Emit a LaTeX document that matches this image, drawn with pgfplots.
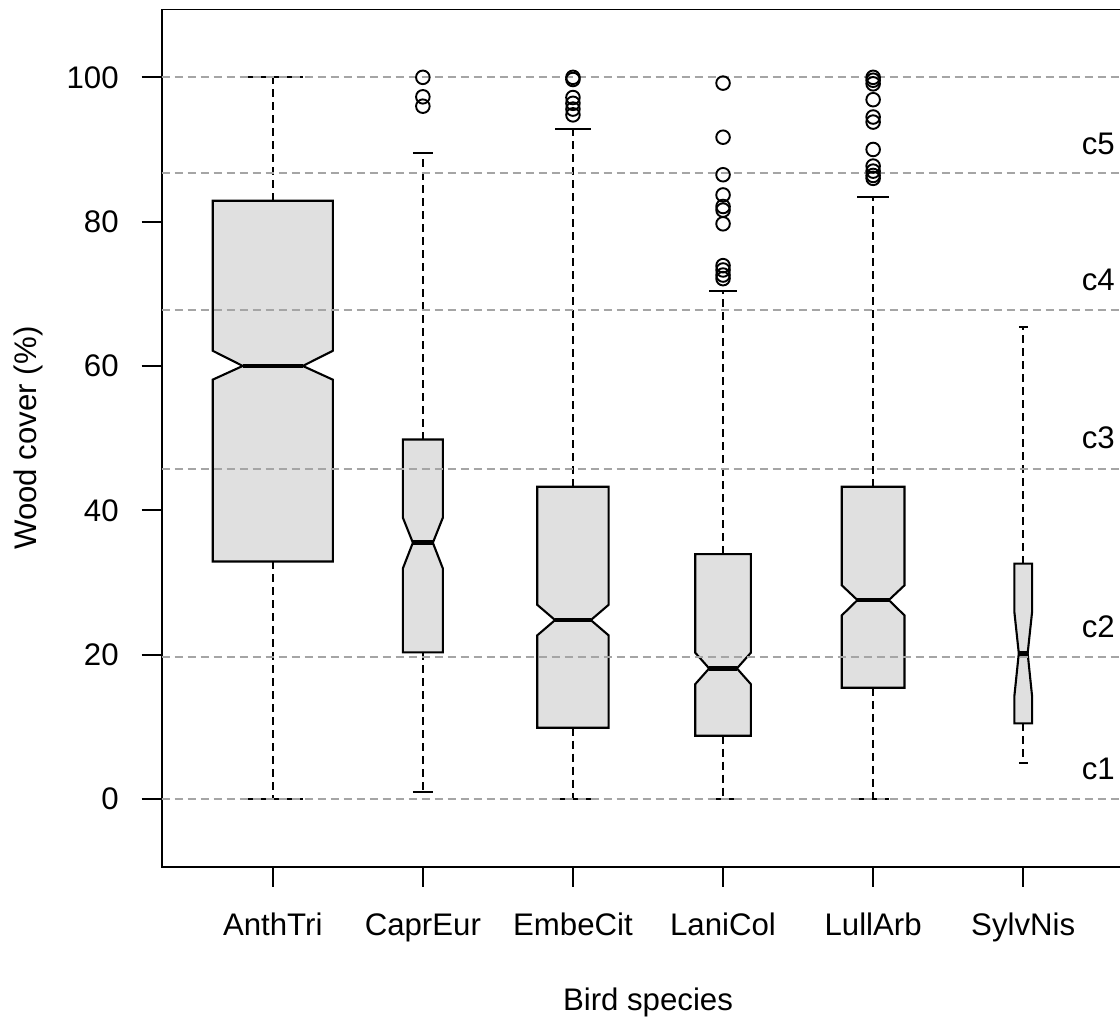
\documentclass[border=0pt]{standalone}
\usepackage{pgfplots}
\pgfplotsset{compat=1.18}
\usepackage{fontspec}
\setmainfont{Liberation Sans}
\definecolor{boxfill}{RGB}{224,224,224}
\definecolor{refgray}{RGB}{165,165,165}
\newcommand{\lblfont}{\fontsize{15.6}{18.7}\selectfont}

% notched box: center, half width, q1, notch low, median, notch high, q3, whisker low, whisker high
\newcommand{\nbox}[9]{%
  \pgfmathsetmacro\xL{#1-#2}%
  \pgfmathsetmacro\xR{#1+#2}%
  \pgfmathsetmacro\xl{#1-#2/2}%
  \pgfmathsetmacro\xr{#1+#2/2}%
  \addplot[black, line width=1pt, dash pattern=on 4pt off 2.5pt] coordinates {(#1,#7) (#1,#9)};
  \addplot[black, line width=1pt, dash pattern=on 4pt off 2.5pt] coordinates {(#1,#3) (#1,#8)};
  \edef\tmp{\noexpand\addplot[black, line width=1pt] coordinates {(\xl,#9) (\xr,#9)};}\tmp
  \edef\tmp{\noexpand\addplot[black, line width=1pt] coordinates {(\xl,#8) (\xr,#8)};}\tmp
  \edef\tmp{\noexpand\addplot[black, line width=1.05pt, fill=boxfill, line join=miter]
    coordinates {(\xL,#3) (\xR,#3) (\xR,#4) (\xr,#5) (\xR,#6) (\xR,#7) (\xL,#7) (\xL,#6) (\xl,#5) (\xL,#4)} -- cycle;}\tmp
  \edef\tmp{\noexpand\addplot[black, line width=2.4pt] coordinates {(\xl,#5) (\xr,#5)};}\tmp
}

\begin{document}
\begin{tikzpicture}
\useasboundingbox (-80.85pt,-76.2pt) rectangle (479.15pt,433.35pt);
\clip (-80.85pt,-76.2pt) rectangle (479.15pt,433.35pt);
\begin{axis}[
  scale only axis,
  width=486.3pt, height=428.6pt,
  xmin=0.26, xmax=6.74, ymin=-9.4, ymax=109.4,
  xtick={1,2,3,4,5,6},
  xticklabels={AnthTri,CaprEur,EmbeCit,LaniCol,LullArb,SylvNis},
  ytick={0,20,40,60,80,100},
  tick align=outside, tick pos=left,
  major tick length=10pt,
  axis line style={line width=0.95pt},
  every tick/.style={black, line width=0.95pt},
  tick label style={font=\lblfont},
  /pgf/number format/assume math mode=true,
  xticklabel style={anchor=base, yshift=-24.5pt},
  yticklabel style={anchor=east, inner sep=0pt, xshift=-11.3pt},
]
% boxes
\nbox{1}{0.400}{32.9}{58.1}{60.0}{62.1}{82.9}{0}{100}
\nbox{2}{0.133}{20.3}{31.95}{35.5}{38.96}{49.8}{1.0}{89.5}
\nbox{3}{0.238}{9.86}{22.66}{24.78}{26.9}{43.26}{0}{92.8}
\nbox{4}{0.185}{8.75}{15.91}{18.08}{20.25}{33.93}{0}{70.4}
\nbox{5}{0.209}{15.4}{25.43}{27.55}{29.6}{43.26}{0}{83.45}
\nbox{6}{0.059}{10.46}{14.25}{20.17}{25.9}{32.6}{5.0}{65.35}
% outliers
\addplot[only marks, mark=o, mark size=3.4pt, mark options={line width=0.95pt, black}] coordinates {
  (2,100) (2,97.3) (2,96.0)
  (3,100) (3,99.7) (3,97.2) (3,96.4) (3,95.6) (3,94.8)
  (4,99.2) (4,91.7) (4,86.5) (4,83.7) (4,82.1) (4,81.6) (4,79.7) (4,73.9) (4,73.3) (4,72.6) (4,72.1)
  (5,100) (5,99.6) (5,99.1) (5,96.9) (5,94.5) (5,93.8) (5,90.0) (5,87.7) (5,87.0) (5,86.4) (5,86.0)
};
% class boundaries
\addplot[refgray, line width=1pt, dash pattern=on 4pt off 2.5pt] coordinates {(0.26,0) (6.74,0)};
\addplot[refgray, line width=1pt, dash pattern=on 4pt off 2.5pt] coordinates {(0.26,19.65) (6.74,19.65)};
\addplot[refgray, line width=1pt, dash pattern=on 4pt off 2.5pt] coordinates {(0.26,45.75) (6.74,45.75)};
\addplot[refgray, line width=1pt, dash pattern=on 4pt off 2.5pt] coordinates {(0.26,67.8) (6.74,67.8)};
\addplot[refgray, line width=1pt, dash pattern=on 4pt off 2.5pt] coordinates {(0.26,86.7) (6.74,86.7)};
\addplot[refgray, line width=1pt, dash pattern=on 4pt off 2.5pt] coordinates {(0.26,100) (6.74,100)};
\node[font=\lblfont] at (axis cs:6.5,4.1) {c1};
\node[font=\lblfont] at (axis cs:6.5,23.8) {c2};
\node[font=\lblfont] at (axis cs:6.5,50.0) {c3};
\node[font=\lblfont] at (axis cs:6.5,71.9) {c4};
\node[font=\lblfont] at (axis cs:6.5,90.8) {c5};
\end{axis}
\node[font=\lblfont, rotate=90, anchor=base] at (-62.5pt,214.3pt) {Wood cover (\%)};
\node[font=\lblfont, anchor=base] at (243.15pt,-72pt) {Bird species};
\end{tikzpicture}
\end{document}
